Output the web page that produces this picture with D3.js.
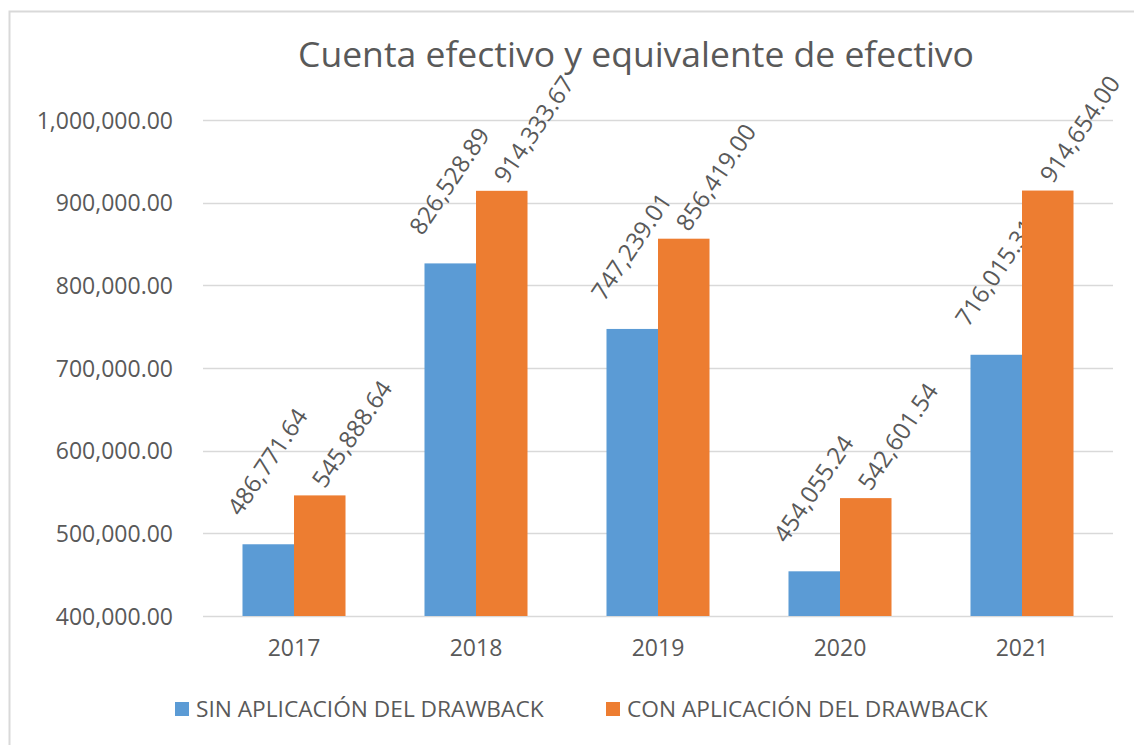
<!DOCTYPE html>
<meta charset="utf-8">
<style>
body { margin: 0; background: #fff; }
text { font-family: "Open Sans", "Liberation Sans", sans-serif; fill: #595959; }
.grid line { stroke: #d9d9d9; stroke-width: 1.3; }
</style>
<body>
<script src="https://d3js.org/d3.v7.min.js"></script>
<script>

// data
var years = ["2017", "2018", "2019", "2020", "2021"];
var sinDrawback = [486771.64, 826528.89, 747239.01, 454055.24, 716015.31];
var conDrawback = [545888.64, 914333.67, 856419.00, 542601.54, 914654.00];
var seriesNames = ["SIN APLICACIÓN DEL DRAWBACK", "CON APLICACIÓN DEL DRAWBACK"];
var yTicks = [400000, 500000, 600000, 700000, 800000, 900000, 1000000];

var colors = ["#5b9bd5", "#ed7d31"];

var width = 1134, height = 745;
var plot = {left: 203, right: 1113, top: 120, bottom: 616};

var svg = d3.select("body").append("svg")
    .attr("width", width)
    .attr("height", height);

// outer chart frame (cut by the screenshot on the right and bottom)
svg.append("rect")
    .attr("x", 9.5).attr("y", 11.5)
    .attr("width", 1140).attr("height", 760)
    .attr("fill", "none")
    .attr("stroke", "#d9d9d9")
    .attr("stroke-width", 2);

// scales
var x = d3.scaleBand()
    .domain(years)
    .range([plot.left, plot.right])
    .paddingInner(0.434)
    .paddingOuter(0.217);

var x1 = d3.scaleBand()
    .domain([0, 1])
    .range([0, x.bandwidth()]);

var y = d3.scaleLinear()
    .domain([400000, 1000000])
    .range([plot.bottom, plot.top]);

var fmt = d3.format(",.2f");

// gridlines
svg.append("g")
    .attr("class", "grid")
  .selectAll("line")
    .data(yTicks)
  .enter().append("line")
    .attr("x1", plot.left)
    .attr("x2", plot.right)
    .attr("y1", function(d) { return Math.round(y(d)) + 0.5; })
    .attr("y2", function(d) { return Math.round(y(d)) + 0.5; });

// y axis labels
var yAxis = svg.append("g")
    .attr("transform", "translate(" + (plot.left - 30) + ",0)")
    .call(d3.axisLeft(y).tickValues(yTicks).tickFormat(fmt).tickSize(0).tickPadding(0));
yAxis.select(".domain").remove();
yAxis.selectAll("text")
    .style("font-size", "23px")
    .attr("fill", "#595959")
    .attr("dy", "0.35em");

// x axis labels
var xAxis = svg.append("g")
    .attr("transform", "translate(0," + plot.bottom + ")")
    .call(d3.axisBottom(x).tickSize(0).tickPadding(24));
xAxis.select(".domain").remove();
xAxis.selectAll("text")
    .style("font-size", "23px")
    .attr("fill", "#595959");

// bars
var series = [sinDrawback, conDrawback];
var labelOffset = [[-28, -27], [5, -6]];

series.forEach(function(vals, s) {
  svg.append("g")
    .selectAll("rect")
      .data(vals)
    .enter().append("rect")
      .attr("x", function(d, i) { return x(years[i]) + x1(s); })
      .attr("width", x1.bandwidth())
      .attr("y", function(d) { return y(d); })
      .attr("height", function(d) { return plot.bottom - y(d); })
      .attr("fill", colors[s]);

  // rotated value labels
  svg.append("g")
    .selectAll("text")
      .data(vals)
    .enter().append("text")
      .attr("transform", function(d, i) {
        var cx = x(years[i]) + x1(s) + x1.bandwidth() / 2 + labelOffset[s][0];
        var cy = y(d) + labelOffset[s][1];
        return "translate(" + cx + "," + cy + ") rotate(-56)";
      })
      .style("font-size", "24px")
      .text(function(d) { return fmt(d); });
});

// title
svg.append("text")
    .attr("x", 636)
    .attr("y", 67)
    .attr("text-anchor", "middle")
    .style("font-size", "35.5px")
    .text("Cuenta efectivo y equivalente de efectivo");

// legend
var legendX = [175, 606];
var legend = svg.append("g")
  .selectAll("g")
    .data(seriesNames)
  .enter().append("g")
    .attr("transform", function(d, i) { return "translate(" + legendX[i] + ",702)"; });

legend.append("rect")
    .attr("width", 14)
    .attr("height", 14)
    .attr("fill", function(d, i) { return colors[i]; });

legend.append("text")
    .attr("x", 21)
    .attr("y", 14.5)
    .style("font-size", "22.7px")
    .text(function(d) { return d; });

</script>
</body>
